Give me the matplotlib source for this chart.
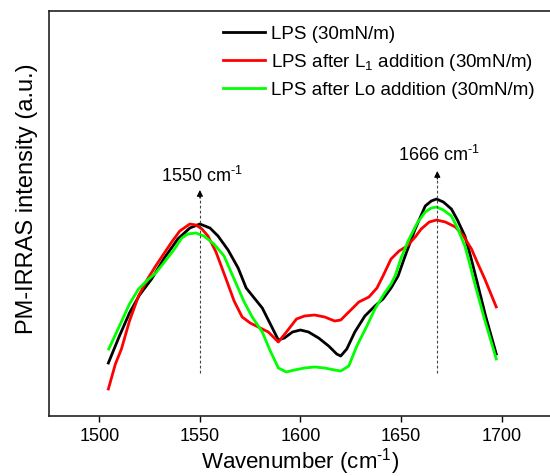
import matplotlib
matplotlib.use("Agg")
import matplotlib.pyplot as plt

plt.rcParams["font.family"] = ["Liberation Sans", "DejaVu Sans"]
plt.rcParams["mathtext.fontset"] = "custom"
plt.rcParams["mathtext.rm"] = "Liberation Sans"
plt.rcParams["mathtext.it"] = "Liberation Sans:italic"
plt.rcParams["mathtext.default"] = "regular"

# wavenumber (cm-1) / intensity (a.u.)
lps_x = [1504.5, 1510, 1515, 1520, 1526, 1532, 1539, 1545, 1550, 1555, 1559, 1564,
         1569, 1573, 1577, 1581, 1585, 1589, 1592, 1596, 1600, 1604, 1609, 1614,
         1618, 1620, 1623, 1627, 1632, 1637, 1641, 1645, 1648.5, 1652, 1657, 1662,
         1665, 1667.6, 1671, 1675, 1678, 1681.7, 1684.5, 1687.4, 1692, 1697.3]
lps_y = [53, 80, 103, 121, 137, 157, 177, 188, 192, 188, 180, 166,
         148, 128, 118, 108, 92, 76, 78, 84, 86, 84, 78, 70,
         62, 60, 67, 84, 100, 110, 117, 128, 140, 160, 187, 210,
         215, 217, 214, 207, 196, 180, 160, 137, 100, 62]

l1_x = [1504.5, 1508, 1511, 1515, 1519.5, 1524, 1528, 1532, 1536, 1540, 1545, 1548,
        1551, 1554, 1558, 1563, 1567, 1571, 1575, 1580, 1584, 1589, 1593, 1598,
        1602, 1607, 1612, 1617, 1620, 1624, 1629, 1634, 1638, 1641, 1645, 1649,
        1653, 1657, 1660, 1664, 1667.6, 1672, 1677, 1681, 1685, 1688, 1691.6, 1697.3]
l1_y = [27, 52, 67, 95, 120, 137, 150, 162, 174, 185, 192, 191,
        187, 180, 164, 137, 115, 99, 93, 88, 84, 74, 84, 97,
        100, 101, 99, 95, 96, 104, 114, 119, 128, 140, 157, 165,
        170, 179, 187, 194, 196, 194, 189, 180, 167, 153, 137, 109]

lo_x = [1504.7, 1510, 1515, 1519.5, 1524, 1528, 1532, 1537, 1541, 1544, 1548, 1552,
        1557, 1562, 1567, 1572, 1576, 1581, 1585, 1589, 1593, 1597, 1602, 1607,
        1612, 1617, 1620, 1624, 1628, 1633, 1637, 1641.5, 1645, 1647, 1650, 1653.5,
        1658, 1662, 1665, 1667.6, 1671, 1675, 1678, 1681.7, 1684, 1686, 1691, 1697.3]
lo_y = [67, 90, 112, 127, 136, 143, 153, 166, 178, 182, 183, 180,
        172, 160, 137, 114, 99, 84, 65, 48, 44, 46, 48, 49,
        48, 46, 45, 50, 70, 90, 107, 122, 132, 140, 158, 175,
        193, 204, 208, 209, 206, 200, 188, 170, 153, 137, 100, 57]

labels = ["LPS (30mN/m)",
          "LPS after L$_1$ addition (30mN/m)",
          "LPS after Lo addition (30mN/m)"]
colors = ["#000000", "#ff0000", "#00ff00"]

peaks = [1550, 1668]
peak_text = ["1550 cm$^{\\text{-1}}$", "1666 cm$^{\\text{-1}}$"]
peak_top = [226, 245]
text_y = [241, 262]

fig = plt.figure(figsize=(5.5, 4.77), dpi=100)
ax = fig.add_axes([49 / 550, 60 / 477, 503 / 550, 405 / 477])

for xs, ys, c, lab in zip([lps_x, l1_x, lo_x], [lps_y, l1_y, lo_y], colors, labels):
    ax.plot(xs, ys, color=c, lw=2.0, label=lab, solid_joinstyle="round")

for px, top, txt, ty in zip(peaks, peak_top, peak_text, text_y):
    ax.vlines(px, 43, top - 6, colors="#444444", linestyles=(0, (2.5, 2)), lw=0.8)
    ax.annotate("", xy=(px, top), xytext=(px, top - 8),
                arrowprops=dict(arrowstyle="-|>", color="k", lw=0.8,
                                mutation_scale=9, shrinkA=0, shrinkB=0))
    ax.text(px + 1, ty, txt, ha="center", va="center", fontsize=13)

ax.set_xlim(1475, 1725)
ax.set_ylim(0, 405)
ax.set_xticks([1500, 1550, 1600, 1650, 1700])
ax.set_yticks([])
ax.tick_params(axis="x", direction="out", length=4, width=1, labelsize=13, pad=4)
for s in ["left", "bottom", "top"]:
    ax.spines[s].set_linewidth(1.2)
    ax.spines[s].set_color("#222222")
ax.spines["right"].set_visible(False)

ax.set_xlabel("Wavenumber (cm$^{\\text{-1}}$)", fontsize=16, labelpad=1)
ax.set_ylabel("PM-IRRAS intensity (a.u.)", fontsize=17)
ax.yaxis.set_label_coords(-0.022, 0.54)

ax.legend(loc="upper left", bbox_to_anchor=(174 / 503, 1 - 14 / 405), frameon=False,
          fontsize=13.5, handlelength=2.25, handletextpad=0.32, labelspacing=0.48,
          borderpad=0, borderaxespad=0)

fig.savefig("out.png", dpi=100)
